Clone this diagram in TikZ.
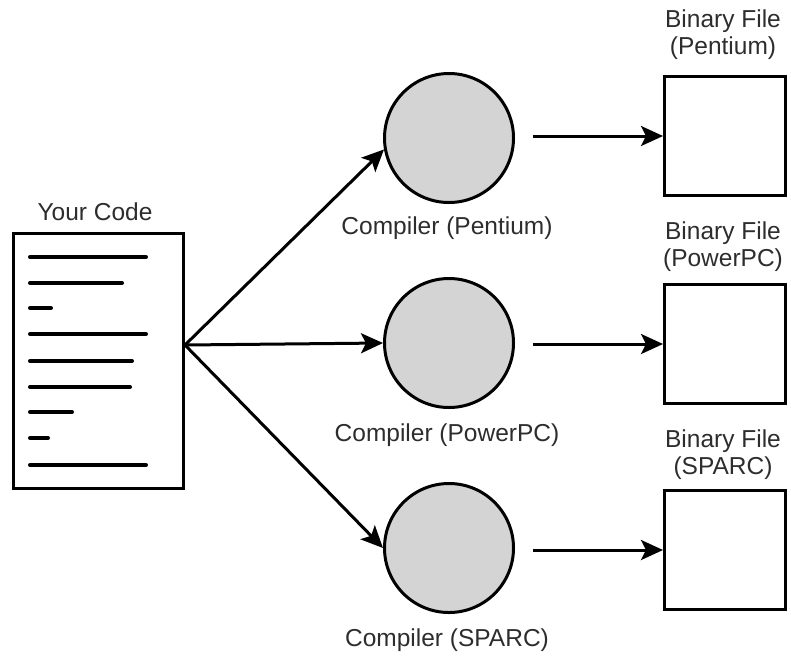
\documentclass[tikz,border=0pt]{standalone}
\usepackage{fontspec}
\setmainfont{Liberation Sans}
\usetikzlibrary{positioning,arrows.meta}
\definecolor{compgray}{RGB}{212,212,212}
\definecolor{labelgray}{RGB}{45,45,45}
\tikzset{comp node/.style={circle,fill=compgray,draw,line width=3pt,minimum size=129pt,inner sep=0pt},
	bin node/.style={rectangle,fill=white,draw,line width=3pt,minimum width=121pt,minimum height=119pt,inner sep=0pt},
	code node/.style={rectangle,fill=white,draw,line width=3pt,minimum width=170pt,minimum height=255pt,inner sep=0pt},
	txt node/.style={text=labelgray,font=\fontsize{24.5}{27}\selectfont,align=center,inner sep=0pt},}

\begin{document}
\begin{tikzpicture}[x=1pt,y=-1pt]
			\useasboundingbox (0,0) rectangle (791,662);

			\node[code node] (code) at (98.5,361) {};
			\node[txt node] (codelbl) at (95,212) {Your Code};
			\foreach \y/\e in {257/148,283/124,308/53,334/148,361/134,387/132,412/74,438/50,465/148}
				\draw[line width=4pt, line cap=round] (30,\y) -- (\e-2,\y);

			\node[comp node] (c1) at (449,138) {};
			\node[comp node] (c2) at (449,343) {};
			\node[comp node] (c3) at (449,548) {};
			\node[txt node] (c1lbl) at (447,228) {Compiler (Pentium)};
			\node[txt node] (c2lbl) at (447,435) {Compiler (PowerPC)};
			\node[txt node] (c3lbl) at (447,640) {Compiler (SPARC)};

			\node[bin node] (b1) at (725,136) {};
			\node[bin node] (b2) at (725,344) {};
			\node[bin node] (b3) at (725,550) {};
			\node[txt node] (b1lbl) at (723,34.5) {Binary File\\(Pentium)};
			\node[txt node] (b2lbl) at (723,246.5) {Binary File\\(PowerPC)};
			\node[txt node] (b3lbl) at (723,454.5) {Binary File\\(SPARC)};

			\coordinate (src) at ([yshift=16pt]code.east);

			\path[every edge/.append style={draw, line width=3pt, -{Stealth[length=22pt,width=20pt,inset=5pt]}}]
				(src) edge (c1.190)
				(src) edge (c2.west)
				(src) edge (c3.west)
				(c1.east |- b1) edge[shorten <=18pt] (b1)
				(c2.east |- b2) edge[shorten <=18pt] (b2)
				(c3.east |- b3) edge[shorten <=18pt] (b3);
		\end{tikzpicture}
\end{document}
